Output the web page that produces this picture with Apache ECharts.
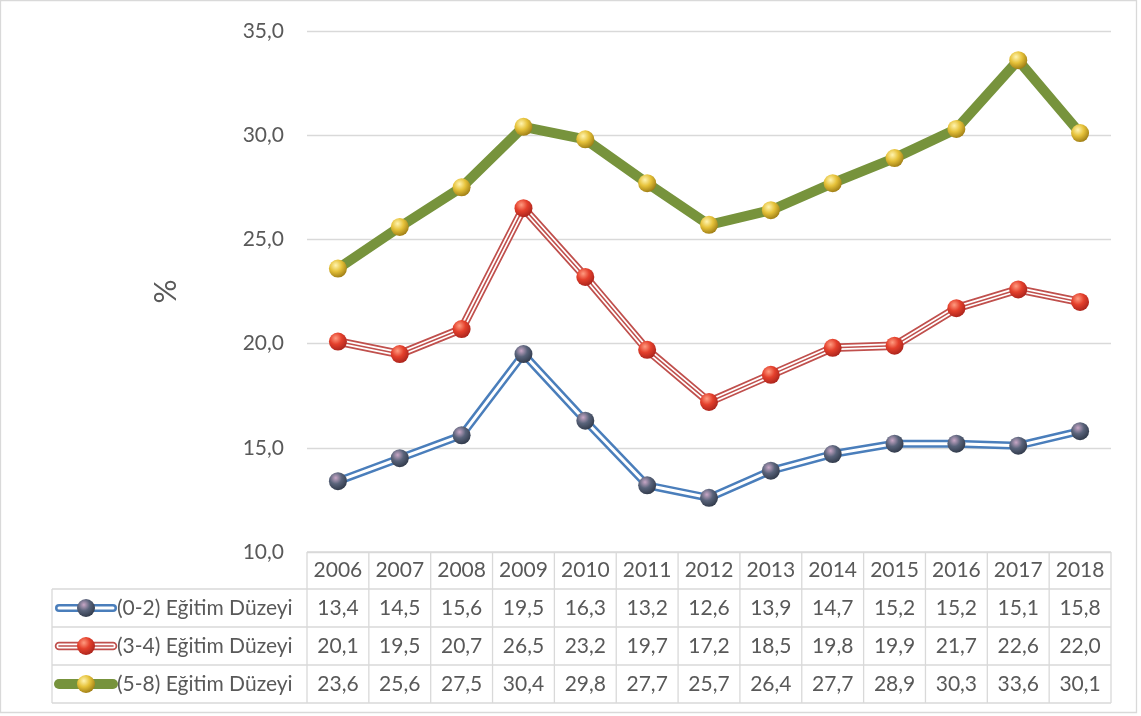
<!DOCTYPE html>
<html>
<head>
<meta charset="utf-8">
<script src="https://cdn.jsdelivr.net/npm/echarts@6/dist/echarts.min.js"></script>
<style>
  html, body { margin: 0; padding: 0; background: #fff; }
  #chart { width: 1141px; height: 716px; }
</style>
</head>
<body>
<div id="chart"></div>
<script>
var years = ['2006', '2007', '2008', '2009', '2010', '2011', '2012', '2013', '2014', '2015', '2016', '2017', '2018'];
var edu02 = [13.4, 14.5, 15.6, 19.5, 16.3, 13.2, 12.6, 13.9, 14.7, 15.2, 15.2, 15.1, 15.8];
var edu34 = [20.1, 19.5, 20.7, 26.5, 23.2, 19.7, 17.2, 18.5, 19.8, 19.9, 21.7, 22.6, 22.0];
var edu58 = [23.6, 25.6, 27.5, 30.4, 29.8, 27.7, 25.7, 26.4, 27.7, 28.9, 30.3, 33.6, 30.1];
var names = ['(0-2) Eğitim Düzeyi', '(3-4) Eğitim Düzeyi', '(5-8) Eğitim Düzeyi'];
var yTicks = { min: 10, max: 35, interval: 5 };

var FONT = 'Lato, "Open Sans", sans-serif';
var TXT = '#595959';
var BORDER = '#d9d9d9';

function fmt(v) { return v.toFixed(1).replace('.', ','); }

function ball(c1, c2, c3) {
    return {
        type: 'radial', x: 0.38, y: 0.32, r: 0.75,
        colorStops: [{ offset: 0, color: c1 }, { offset: 0.45, color: c2 }, { offset: 1, color: c3 }]
    };
}

// line layers per series: [width, color]
var styles = [
    { layers: [[8, '#4a7ebb'], [3, '#ffffff']], marker: ball('#c8a7c6', '#59637a', '#2c3545') },
    { layers: [[8.5, '#c0504d'], [5, '#ffffff'], [1.6, '#c0504d']], marker: ball('#ff9b80', '#e4402c', '#a3201a') },
    { layers: [[10, '#77933c']], marker: ball('#fff4b0', '#e6c23a', '#967510') }
];
var datasets = [edu02, edu34, edu58];

var series = [];
datasets.forEach(function (d, i) {
    var st = styles[i];
    st.layers.forEach(function (ly, j) {
        var last = j === st.layers.length - 1;
        series.push({
            name: names[i],
            type: 'line',
            data: d,
            z: 2 + j,
            symbol: last ? 'circle' : 'none',
            symbolSize: 18,
            showSymbol: last,
            itemStyle: { color: st.marker, borderWidth: 0 },
            lineStyle: { width: ly[0], color: ly[1], cap: 'round', join: 'round' },
            emphasis: { disabled: true },
            animation: false
        });
    });
});

// data table
var gLeft = 307, gRight = 1111, colW = (gRight - gLeft) / years.length;
var tLeft = 52;
var rowY = [552, 589, 627, 665, 703];
var graphic = [];
var lineStyle = { stroke: BORDER, lineWidth: 1.3 };

graphic.push({ type: 'rect', shape: { x: 0.5, y: 0.5, width: 1136, height: 712 }, style: { fill: 'none', stroke: BORDER, lineWidth: 1.3 }, silent: true });
rowY.forEach(function (y, k) {
    graphic.push({ type: 'line', shape: { x1: k === 0 ? gLeft : tLeft, y1: y, x2: gRight, y2: y }, style: lineStyle, silent: true });
});
for (var c = 0; c <= years.length; c++) {
    var x = gLeft + c * colW;
    graphic.push({ type: 'line', shape: { x1: x, y1: rowY[0], x2: x, y2: rowY[4] }, style: lineStyle, silent: true });
}
graphic.push({ type: 'line', shape: { x1: tLeft, y1: rowY[1], x2: tLeft, y2: rowY[4] }, style: lineStyle, silent: true });

years.forEach(function (yr, c) {
    graphic.push({
        type: 'text', x: gLeft + (c + 0.5) * colW, y: (rowY[0] + rowY[1]) / 2,
        style: { text: yr, fill: TXT, font: '21px ' + FONT, align: 'center', verticalAlign: 'middle' }, silent: true
    });
});
datasets.forEach(function (d, i) {
    var cy = (rowY[i + 1] + rowY[i + 2]) / 2;
    d.forEach(function (v, c) {
        graphic.push({
            type: 'text', x: gLeft + (c + 0.5) * colW, y: cy,
            style: { text: fmt(v), fill: TXT, font: '21px ' + FONT, align: 'center', verticalAlign: 'middle' }, silent: true
        });
    });
    // legend key
    styles[i].layers.forEach(function (ly) {
        graphic.push({ type: 'line', shape: { x1: 59, y1: cy, x2: 113, y2: cy }, style: { stroke: ly[1], lineWidth: ly[0], lineCap: 'round' }, silent: true });
    });
    graphic.push({ type: 'circle', shape: { cx: 86, cy: cy, r: 9 }, style: { fill: styles[i].marker }, silent: true });
    graphic.push({
        type: 'text', x: 117, y: cy,
        style: { text: names[i], fill: TXT, font: '21px ' + FONT, align: 'left', verticalAlign: 'middle' }, silent: true
    });
});

var chart = echarts.init(document.getElementById('chart'));
chart.setOption({
    backgroundColor: '#fff',
    animation: false,
    grid: { left: gLeft, right: 1141 - gRight, top: 31, bottom: 716 - rowY[0] },
    xAxis: {
        type: 'category',
        data: years,
        boundaryGap: true,
        axisLine: { show: false },
        axisTick: { show: false },
        axisLabel: { show: false }
    },
    yAxis: {
        type: 'value',
        min: yTicks.min,
        max: yTicks.max,
        interval: yTicks.interval,
        name: '%',
        nameLocation: 'middle',
        nameGap: 126,
        nameRotate: 90,
        nameTextStyle: { fontSize: 30, color: TXT, fontFamily: FONT },
        axisLine: { show: false },
        axisTick: { show: false },
        axisLabel: { formatter: fmt, color: TXT, fontSize: 21, fontFamily: FONT, margin: 23 },
        splitLine: { lineStyle: { color: BORDER, width: 1.3 } }
    },
    series: series,
    graphic: graphic
});
</script>
</body>
</html>
